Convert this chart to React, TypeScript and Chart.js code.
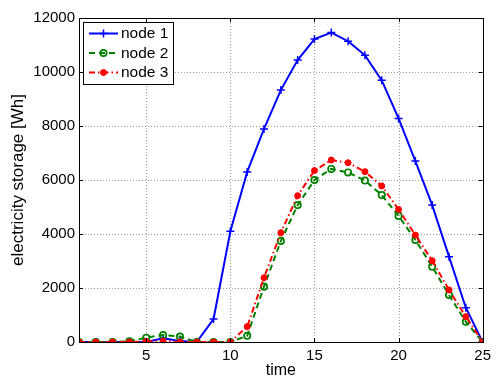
import React, { useEffect, useRef } from "react";
import { Chart, registerables } from "chart.js";

Chart.register(...registerables);

const times = [1, 2, 3, 4, 5, 6, 7, 8, 9, 10, 11, 12, 13, 14, 15, 16, 17, 18, 19, 20, 21, 22, 23, 24, 25];
const node1 = [0, 0, 0, 0, 0, 140, 40, 0, 850, 4100, 6300, 7890, 9330, 10440, 11220, 11460, 11140, 10620, 9690, 8280, 6700, 5070, 3160, 1270, 0];
const node2 = [0, 0, 0, 30, 160, 260, 200, 0, 0, 0, 230, 2050, 3740, 5070, 6000, 6410, 6280, 5980, 5440, 4670, 3780, 2790, 1740, 750, 0];
const node3 = [0, 0, 0, 0, 20, 30, 0, 0, 0, 0, 570, 2380, 4050, 5420, 6350, 6740, 6640, 6310, 5780, 4910, 3960, 3010, 1930, 940, 0];
const xTicks = [5, 10, 15, 20, 25];
const yTicks = [0, 2000, 4000, 6000, 8000, 10000, 12000];
const seriesNames = ["node 1", "node 2", "node 3"];

const FONT = "Liberation Sans, Arial, Helvetica, sans-serif";

const gridPlugin = {
  id: "matlabGrid",
  beforeDatasetsDraw(chart: any) {
    const { ctx, chartArea } = chart;
    const { left, right, top, bottom } = chartArea;
    const xs = chart.scales.x;
    const ys = chart.scales.y;
    ctx.save();
    ctx.strokeStyle = "#9a9a9a";
    ctx.lineWidth = 1;
    ctx.setLineDash([1, 2]);
    ctx.beginPath();
    xTicks.forEach((v) => {
      const px = Math.round(xs.getPixelForValue(v)) + 0.5;
      ctx.moveTo(px, bottom);
      ctx.lineTo(px, top);
    });
    yTicks.forEach((v) => {
      const py = Math.round(ys.getPixelForValue(v)) + 0.5;
      ctx.moveTo(left, py);
      ctx.lineTo(right, py);
    });
    ctx.stroke();
    ctx.restore();
  },
};

const boxPlugin = {
  id: "matlabBox",
  afterDatasetsDraw(chart: any) {
    const { ctx, chartArea } = chart;
    const { left, right, top, bottom } = chartArea;
    ctx.save();
    ctx.strokeStyle = "#000";
    ctx.lineWidth = 1;
    const xs = chart.scales.x;
    const ys = chart.scales.y;
    ctx.beginPath();
    xTicks.forEach((v) => {
      const px = Math.round(xs.getPixelForValue(v)) + 0.5;
      ctx.moveTo(px, bottom);
      ctx.lineTo(px, bottom - 4);
      ctx.moveTo(px, top);
      ctx.lineTo(px, top + 4);
    });
    yTicks.forEach((v) => {
      const py = Math.round(ys.getPixelForValue(v)) + 0.5;
      ctx.moveTo(left, py);
      ctx.lineTo(left + 4, py);
      ctx.moveTo(right, py);
      ctx.lineTo(right - 4, py);
    });
    ctx.stroke();
    ctx.strokeRect(Math.round(left) + 0.5, Math.round(top) + 0.5, Math.round(right - left), Math.round(bottom - top));

    // legend
    const lx = Math.round(left) + 4;
    const ly = Math.round(top) + 4;
    const lw = 90;
    const lh = 62;
    ctx.fillStyle = "#fff";
    ctx.fillRect(lx, ly, lw, lh);
    ctx.strokeStyle = "#000";
    ctx.strokeRect(lx + 0.5, ly + 0.5, lw, lh);
    const ds = chart.data.datasets;
    ds.forEach((d: any, i: number) => {
      const cy = ly + 11.5 + i * 19.5;
      ctx.strokeStyle = d.borderColor;
      ctx.lineWidth = d.borderWidth;
      ctx.setLineDash(d.borderDash || []);
      ctx.beginPath();
      ctx.moveTo(lx + 6, cy);
      ctx.lineTo(lx + 35, cy);
      ctx.stroke();
      ctx.setLineDash([]);
      const mx = lx + 20.5;
      ctx.lineWidth = d.pointBorderWidth;
      ctx.strokeStyle = d.pointBorderColor;
      ctx.fillStyle = d.pointBackgroundColor;
      if (d.pointStyle === "cross") {
        ctx.beginPath();
        ctx.moveTo(mx - 4, cy);
        ctx.lineTo(mx + 4, cy);
        ctx.moveTo(mx, cy - 4);
        ctx.lineTo(mx, cy + 4);
        ctx.stroke();
      } else {
        ctx.beginPath();
        ctx.arc(mx, cy, d.pointRadius, 0, Math.PI * 2);
        ctx.fill();
        ctx.stroke();
      }
      ctx.fillStyle = "#000";
      ctx.font = "15.5px " + FONT;
      ctx.textBaseline = "middle";
      ctx.textAlign = "left";
      ctx.fillText(seriesNames[i], lx + 38, cy + 0.5);
    });
    ctx.restore();
  },
};

export default function App() {
  const ref = useRef<HTMLCanvasElement | null>(null);
  useEffect(() => {
    if (!ref.current) return;
    const mk = (arr: number[]) => times.map((t, i) => ({ x: t, y: arr[i] }));
    const chart = new Chart(ref.current, {
      type: "line",
      data: {
        datasets: [
          {
            label: seriesNames[0],
            data: mk(node1),
            borderColor: "#0000ff",
            backgroundColor: "#0000ff",
            borderWidth: 2,
            pointStyle: "cross",
            pointRadius: 4,
            pointBorderWidth: 1.5,
            pointBorderColor: "#0000ff",
            pointBackgroundColor: "#0000ff",
            tension: 0,
            order: 2,
          } as any,
          {
            label: seriesNames[1],
            data: mk(node2),
            borderColor: "#008000",
            backgroundColor: "#008000",
            borderWidth: 2,
            borderDash: [6, 4],
            pointStyle: "circle",
            pointRadius: 3.2,
            pointBorderWidth: 1.7,
            pointBorderColor: "#008000",
            pointBackgroundColor: "rgba(0,0,0,0)",
            tension: 0,
            order: 1,
          } as any,
          {
            label: seriesNames[2],
            data: mk(node3),
            borderColor: "#ff0000",
            backgroundColor: "#ff0000",
            borderWidth: 2,
            borderDash: [6, 3, 1.5, 3],
            pointStyle: "circle",
            pointRadius: 3,
            pointBorderWidth: 1,
            pointBorderColor: "#ff0000",
            pointBackgroundColor: "#ff0000",
            tension: 0,
            order: 0,
          } as any,
        ],
      },
      options: {
        animation: false,
        responsive: false,
        maintainAspectRatio: false,
        layout: { padding: { top: 18, right: 9, left: 0, bottom: 0 } },
        plugins: { legend: { display: false }, tooltip: { enabled: false } },
        scales: {
          x: {
            type: "linear",
            min: 1,
            max: 25,
            afterBuildTicks: (s: any) => {
              s.ticks = xTicks.map((v) => ({ value: v }));
            },
            afterFit: (s: any) => {
              s.height = 39;
            },
            grid: { display: false, drawTicks: false },
            border: { display: false },
            ticks: { color: "#000", font: { family: FONT, size: 15 }, padding: 5, maxRotation: 0, callback: (v: any) => String(v) },
            title: { display: true, text: "time", color: "#000", font: { family: FONT, size: 16 }, padding: { top: 0, bottom: 1 } },
          },
          y: {
            type: "linear",
            min: 0,
            max: 12000,
            afterBuildTicks: (s: any) => {
              s.ticks = yTicks.map((v) => ({ value: v }));
            },
            afterFit: (s: any) => {
              s.width = 79;
            },
            grid: { display: false, drawTicks: false },
            border: { display: false },
            ticks: { color: "#000", font: { family: FONT, size: 15 }, padding: 4, callback: (v: any) => String(v) },
            title: { display: true, text: "electricity storage [Wh]", color: "#000", font: { family: FONT, size: 17 }, padding: { top: 8, bottom: 0 } },
          },
        },
      } as any,
      plugins: [gridPlugin, boxPlugin],
    });
    return () => chart.destroy();
  }, []);
  return (
    <div style={{ position: "fixed", left: 0, top: 0, width: 496, height: 381, background: "#fff" }}>
      <canvas ref={ref} width={496} height={381} style={{ width: 496, height: 381 }} />
    </div>
  );
}
